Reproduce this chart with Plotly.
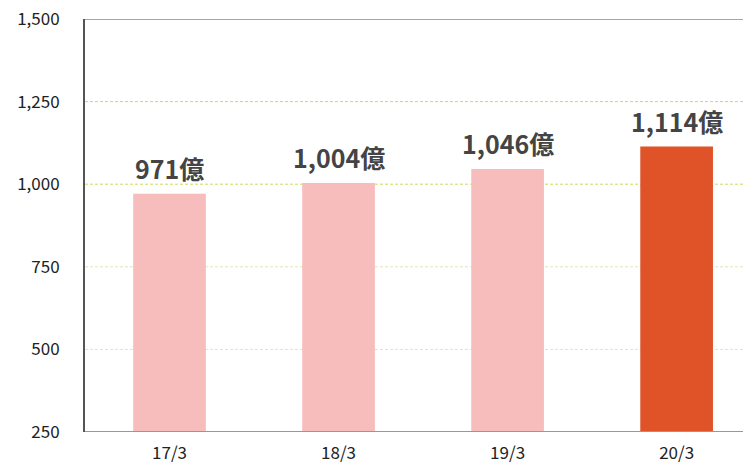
import plotly.graph_objects as go

categories = ["17/3", "18/3", "19/3", "20/3"]
values = [971, 1004, 1046, 1114]
labels = ["971億", "1,004億", "1,046億", "1,114億"]
y_ticks = [250, 500, 750, 1000, 1250, 1500]
y_ticktext = ["250", "500", "750", "1,000", "1,250", "1,500"]

bar_colors = ["#f7bdbd", "#f7bdbd", "#f7bdbd", "#e05329"]

fig = go.Figure()
fig.add_trace(go.Bar(
    x=categories, y=values, marker=dict(color=bar_colors, line=dict(width=0)),
    width=0.43, hoverinfo="skip",
))

grid_styles = {500: "#dfe6b8", 750: "#dfe6b8", 1000: "#cddc5a", 1250: "#cddc5a"}
shapes = []
for t in y_ticks:
    if t in grid_styles:
        shapes.append(dict(type="line", xref="paper", x0=0, x1=1, yref="y", y0=t, y1=t,
                           line=dict(color=grid_styles[t], width=1, dash="3px,2px"), layer="below"))
shapes.append(dict(type="line", xref="paper", x0=0, x1=1, yref="y", y0=1500, y1=1500,
                   line=dict(color="#a8a89a", width=2), layer="below"))
shapes.append(dict(type="line", xref="paper", x0=0, x1=1, yref="y", y0=250, y1=250,
                   line=dict(color="#9a9a8c", width=2), layer="above"))

annotations = []
for c, v, lab in zip(categories, values, labels):
    annotations.append(dict(x=c, y=v, xref="x", yref="y", text=lab, showarrow=False,
                            yanchor="bottom", yshift=6,
                            font=dict(family="Noto Sans CJK JP", size=25, color="#444444", weight="bold")))

# page body has an 8px margin, so the figure is offset by 8px right and down
fig.update_layout(
    width=751, height=465,
    margin=dict(l=77, r=8, t=11, b=41),
    paper_bgcolor="white", plot_bgcolor="white",
    showlegend=False,
    shapes=shapes, annotations=annotations,
    font=dict(family="Noto Sans CJK JP", size=17, color="#222222"),
    xaxis=dict(range=[-0.5, 3.44], showgrid=False, showline=False, ticks="",
               tickfont=dict(size=17, color="#222222"), ticklabelstandoff=9, automargin=False,
               ticklabeloverflow="allow"),
    yaxis=dict(range=[250, 1500], tickvals=y_ticks, ticktext=y_ticktext, showgrid=False,
               zeroline=False, showline=True, linecolor="#555555", linewidth=2, ticks="",
               tickfont=dict(size=17, color="#222222"), ticklabelstandoff=20, automargin=False,
               ticklabeloverflow="allow"),
)

fig.write_html("out.html")
